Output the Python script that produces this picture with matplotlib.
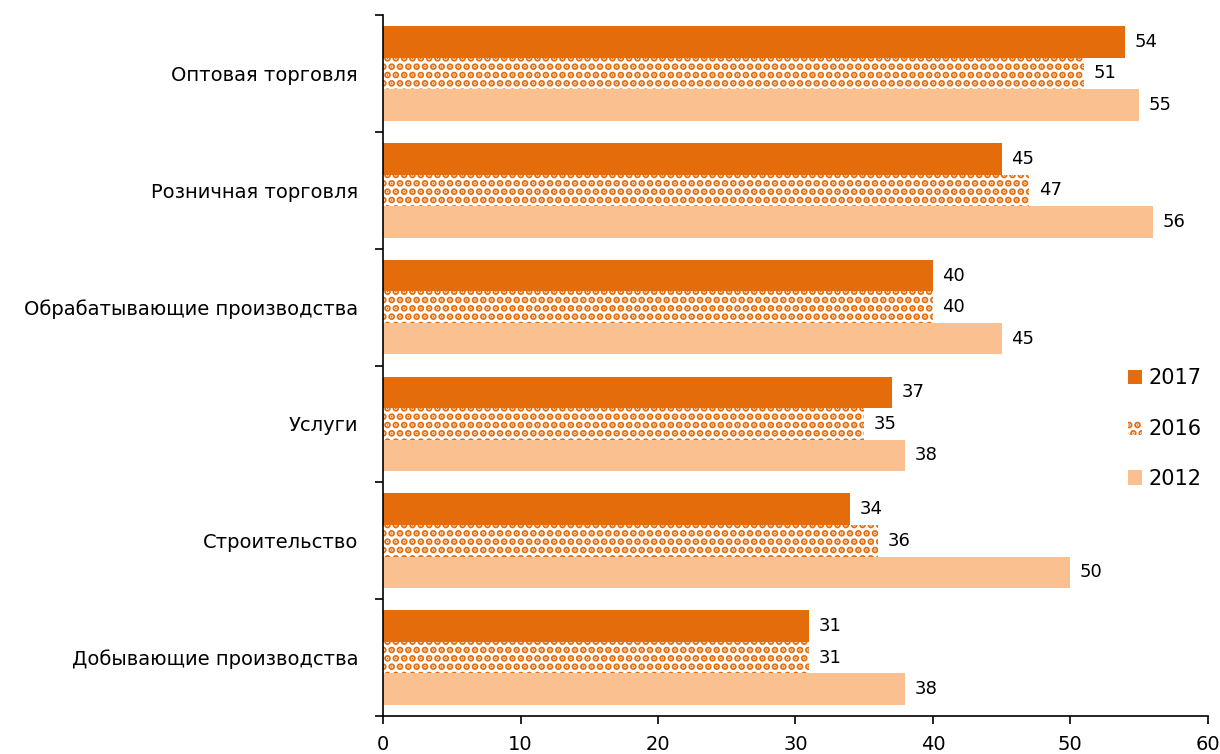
import numpy as np
import matplotlib.pyplot as plt
from matplotlib.patches import Patch

categories = ["Оптовая торговля", "Розничная торговля", "Обрабатывающие производства",
              "Услуги", "Строительство", "Добывающие производства"]
years = ["2017", "2016", "2012"]
v2017 = [54, 45, 40, 37, 34, 31]
v2016 = [51, 47, 40, 35, 36, 31]
v2012 = [55, 56, 45, 38, 50, 38]
x_ticks = [0, 10, 20, 30, 40, 50, 60]

DARK = "#E46C0A"
LIGHT = "#FAC090"
plt.rcParams["hatch.linewidth"] = 3.5

fig = plt.figure(figsize=(12.2, 7.54), dpi=100)
ax = fig.add_axes([0.314, 0.0504, 0.676, 0.9296])

n = len(categories)
y = np.arange(n)[::-1]
h = 0.27

ax.barh(y + h, v2017, height=h, color=DARK, label=years[0])
ax.barh(y, v2016, height=h, color="white", edgecolor=DARK, hatch="..", linewidth=0, label=years[1])
ax.barh(y - h, v2012, height=h, color=LIGHT, label=years[2])

for vals, off in [(v2017, h), (v2016, 0), (v2012, -h)]:
    for yi, v in zip(y, vals):
        ax.text(v + 0.7, yi + off, str(v), va="center", ha="left", fontsize=13)

ax.set_xlim(0, 60)
ax.set_ylim(-0.5, n - 0.5)
ax.set_xticks(x_ticks)
ax.set_xticklabels([str(t) for t in x_ticks], fontsize=14)
ax.set_yticks(y)
ax.set_yticklabels(categories, fontsize=14)
ax.tick_params(axis="y", length=0, pad=18)
ax.set_yticks(np.arange(n + 1) - 0.5, minor=True)
ax.tick_params(axis="y", which="minor", length=6, width=1.2)
ax.tick_params(axis="x", length=6, width=1.2, pad=8)
for s in ["top", "right"]:
    ax.spines[s].set_visible(False)
ax.spines["left"].set_linewidth(1.2)
ax.spines["bottom"].set_linewidth(1.2)

handles = [Patch(facecolor=DARK, label="2017"),
           Patch(facecolor="white", edgecolor=DARK, hatch="..", linewidth=0, label="2016"),
           Patch(facecolor=LIGHT, label="2012")]
ax.legend(handles=handles, loc="center left", bbox_to_anchor=(0.903, 0.41), frameon=False,
          fontsize=15, handlelength=0.7, handleheight=0.7, labelspacing=1.45, handletextpad=0.3,
          borderaxespad=0, borderpad=0)

fig.savefig("out.png")
